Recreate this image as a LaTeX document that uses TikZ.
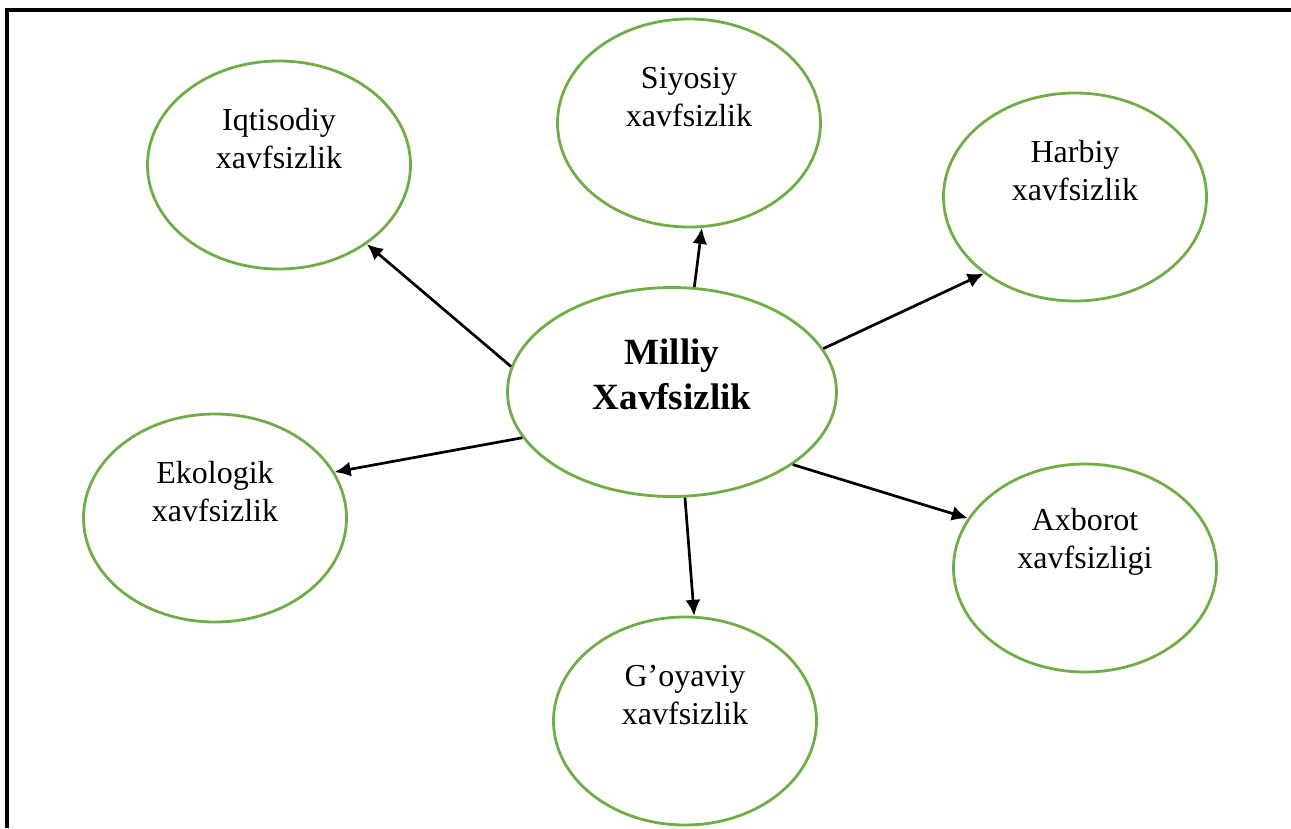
\documentclass[tikz,border=0pt]{standalone}
\usepackage{fontspec}
\setmainfont{Liberation Serif}
\usetikzlibrary{arrows.meta,shapes.geometric}
\definecolor{ovalgreen}{HTML}{70AD47}
\tikzset{
  oval/.style={ellipse, draw=ovalgreen, line width=2.8pt, inner sep=0pt,
    minimum width=263pt, minimum height=208pt},
  bigoval/.style={oval, minimum width=329pt, minimum height=209pt},
  lbl/.style={align=center, inner sep=0pt, font=\fontsize{32}{38}\selectfont},
  biglbl/.style={align=center, inner sep=0pt, font=\fontsize{37}{45}\selectfont\bfseries},
  conn/.style={line width=2.7pt, -{Latex[length=16pt,width=15pt]}},
  frame/.style={line width=3.2pt}
}
\begin{document}
\begin{tikzpicture}[x=1pt,y=-1pt]
\useasboundingbox (0,0) rectangle (1291,828);
\draw[frame] (1291,10) -- (7,10) -- (7,828);

\node[bigoval] (m) at (672,392) {};
\node[oval] (iq) at (279,165) {};
\node[oval] (si) at (689,123) {};
\node[oval] (ha) at (1075,197) {};
\node[oval] (ek) at (215,518) {};
\node[oval] (go) at (685,721) {};
\node[oval] (ax) at (1085,568) {};

\node[biglbl] (mt) at ([yshift=18pt]m.center) {Milliy\\Xavfsizlik};
\node[lbl] (iqt) at ([yshift=26pt]iq.center) {Iqtisodiy\\xavfsizlik};
\node[lbl] (sit) at ([yshift=26pt]si.center) {Siyosiy\\xavfsizlik};
\node[lbl] (hat) at ([yshift=26pt]ha.center) {Harbiy\\xavfsizlik};
\node[lbl] (ekt) at ([yshift=26pt]ek.center) {Ekologik\\xavfsizlik};
\node[lbl] (got) at ([yshift=26pt]go.center) {G’oyaviy\\xavfsizlik};
\node[lbl] (axt) at ([yshift=26pt]ax.center) {Axborot\\xavfsizligi};

\draw[conn] (m.171.4) -- (iq.318.5);
\draw[conn] (m.78.7) -- (si.277.6);
\draw[conn] (m.16.1) -- (ha.220);
\draw[conn] (m.197.6) -- (ek.21.9);
\draw[conn] (m.277.8) -- (go.85.1);
\draw[conn] (m.329.7) -- (ax.157.2);
\end{tikzpicture}
\end{document}
